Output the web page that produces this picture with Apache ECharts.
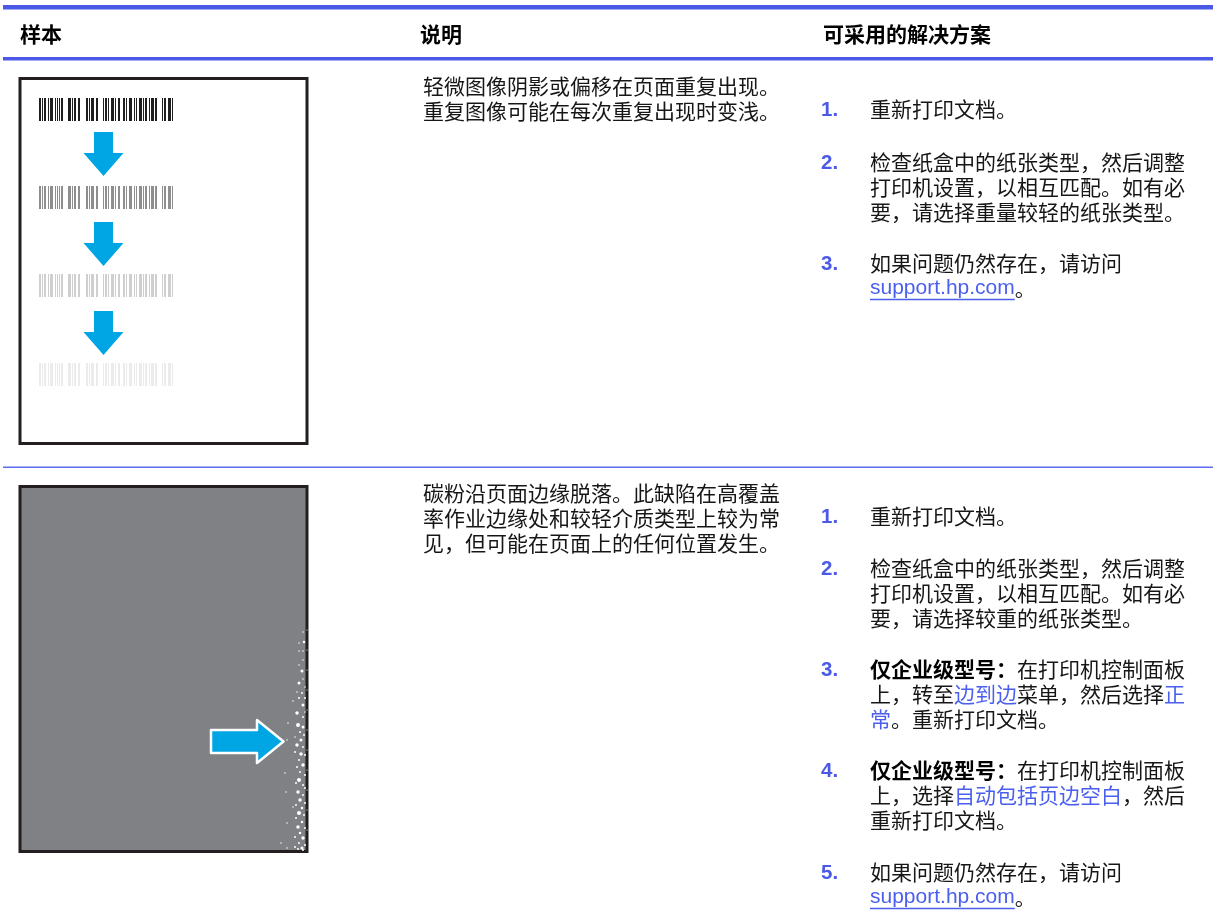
<!DOCTYPE html>
<html><head><meta charset="utf-8">
<script src="https://cdn.jsdelivr.net/npm/echarts@6/dist/echarts.min.js"></script>
<style>html,body{margin:0;padding:0;background:#fff}#c{width:1213px;height:919px}</style>
</head><body><div id="c"></div>
<script>
// ---------- content ----------
const headers = ['样本', '说明', '可采用的解决方案'];

const descriptions = [
  ['轻微图像阴影或偏移在页面重复出现。', '重复图像可能在每次重复出现时变浅。'],
  ['碳粉沿页面边缘脱落。此缺陷在高覆盖', '率作业边缘处和较轻介质类型上较为常', '见，但可能在页面上的任何位置发生。']
];

// each solution: list of lines; each line: list of [style, text]; n normal, b bold, l link, u underlined link
const solutionsRow1 = [
  [[['n', '重新打印文档。']]],
  [[['n', '检查纸盒中的纸张类型，然后调整']], [['n', '打印机设置，以相互匹配。如有必']], [['n', '要，请选择重量较轻的纸张类型。']]],
  [[['n', '如果问题仍然存在，请访问']], [['u', 'support.hp.com'], ['n', '。']]]
];
const solutionsRow2 = [
  [[['n', '重新打印文档。']]],
  [[['n', '检查纸盒中的纸张类型，然后调整']], [['n', '打印机设置，以相互匹配。如有必']], [['n', '要，请选择较重的纸张类型。']]],
  [[['b', '仅企业级型号：'], ['n', '在打印机控制面板']], [['n', '上，转至'], ['l', '边到边'], ['n', '菜单，然后选择'], ['l', '正']], [['l', '常'], ['n', '。重新打印文档。']]],
  [[['b', '仅企业级型号：'], ['n', '在打印机控制面板']], [['n', '上，选择'], ['l', '自动包括页边空白'], ['n', '，然后']], [['n', '重新打印文档。']]],
  [[['n', '如果问题仍然存在，请访问']], [['u', 'support.hp.com'], ['n', '。']]]
];

// barcode bars: [offset, width] in px units of the barcode
const barcodeBars = [[0,2],[3,1],[5,2],[9,1],[11,3],
  [16,1],[18,1],[20,1],[22,2],
  [29,3],[33,1],[35,2],[39,2],
  [47,2],[50,1],[52,3],[57,2],
  [64,1],[66,2],[69,1],[72,3],[76,1],[79,2],
  [84,2],[87,1],[90,3],[95,1],[97,1],
  [100,3],[104,1],[106,2],[110,1],[112,3],[116,2],
  [123,1],[125,2],[129,3],[133,1]];
const barcodeShades = ['#1e1e1e', '#8e8e8e', '#cfcfcf', '#ebebeb'];

// toner flakes along the edge: [x, y, diameter]
const flakes = [
  [303,632,1.5],[304,642,2.5],[299,643,1.5],[299,651,1.5],[303,651,1.5],[303,660,1.5],[299,665,1.5],
  [302,671,3],[303,679,1.5],[299,683,3],[305,687,1.5],[297,692,1.5],[302,693,2],[293,701,1.5],
  [299,698,2],[305,698,2],[303,705,3],[297,713,3.5],[303,717,2],[305,712,1.5],[288,723,1.5],
  [298,725,4],[303,727,3],[300,732,2],[304,735,2],[295,737,1.5],[301,740,3],[287,740,1.5],
  [297,745,3.5],[303,747,2],[295,752,2],[301,754,3.5],[305,755,2],[299,760,2],[303,765,3.5],
  [297,767,2],[300,772,2],[285,773,1.5],[305,775,2],[299,780,4],[303,785,2],[296,783,2],
  [305,788,2],[298,792,3.5],[286,792,1.5],[303,795,2],[300,800,3.5],[305,803,2],[296,805,2],
  [302,808,2.5],[293,807,1.5],[299,813,4],[304,815,2],[296,818,2],[302,822,2.5],[287,823,1.5],
  [298,827,3.5],[305,828,2],[300,833,2.5],[295,837,2],[303,838,3.5],[281,843,1.5],[299,843,2],
  [305,845,2],[295,847,2],[302,848,3],[287,848,1.5],[298,849,2],[303,850,2],
  [307,630,1.2],[307,650,1.2],[307,670,1.2],[307,690,1.2],[307,710,1.2],[307,730,1.2],[307,750,1.2],
  [307,770,1.2],[307,790,1.2],[307,810,1.2],[307,830,1.2]
];

// ---------- drawing ----------
const FONT = "'Noto Sans CJK SC', sans-serif";
const LATIN = "'Liberation Sans', 'Noto Sans CJK SC', sans-serif";
const BLUE = '#4a5ae6';
const LINK = '#4a5fee';
const ARROW = '#00a5e3';
const TEXT = '#161616';
const FS = 21;
const LH = 25;

const g = [];
// rules
g.push({type: 'rect', shape: {x: 3, y: 5, width: 1210, height: 4.5}, style: {fill: BLUE}});
g.push({type: 'rect', shape: {x: 3, y: 57, width: 1210, height: 3.5}, style: {fill: BLUE}});
g.push({type: 'rect', shape: {x: 3, y: 466.5, width: 1210, height: 1.6}, style: {fill: '#5d6df0'}});

// headers
const headerX = [20, 420, 823];
headers.forEach((h, i) => g.push({type: 'text', x: headerX[i], y: 34,
  style: {text: h, fontFamily: FONT, fontSize: 21, fontWeight: 'bold', fill: '#000', verticalAlign: 'middle'}}));

// descriptions
const descTop = [86, 493];
descriptions.forEach((lines, r) => lines.forEach((t, k) => g.push({type: 'text', x: 423, y: descTop[r] + k * LH,
  style: {text: t, fontFamily: FONT, fontSize: FS, fill: TEXT, verticalAlign: 'middle'}})));

// text width measurement
const mctx = document.createElement('canvas').getContext('2d');
function measure(t, font) { mctx.font = font; return mctx.measureText(t).width; }

const rich = {
  n: {fontFamily: FONT, fontSize: FS, fill: TEXT},
  b: {fontFamily: FONT, fontSize: FS, fontWeight: 'bold', fill: '#000'},
  l: {fontFamily: FONT, fontSize: FS, fill: LINK},
  u: {fontFamily: LATIN, fontSize: FS, fill: LINK}
};

function drawSolutions(items, tops) {
  items.forEach((lines, i) => {
    const y0 = tops[i];
    g.push({type: 'text', x: 821, y: y0 + 1.5, style: {text: (i + 1) + '.', fontFamily: LATIN, fontSize: 20.5,
      fontWeight: 'bold', fill: BLUE, verticalAlign: 'middle'}});
    lines.forEach((segs, k) => {
      const y = y0 + k * LH;
      const txt = segs.map(s => '{' + s[0] + '|' + s[1] + '}').join('');
      g.push({type: 'text', x: 870, y: y, style: {text: txt, rich: rich, verticalAlign: 'middle'}});
      let x = 870;
      segs.forEach(s => {
        const f = (s[0] === 'b' ? 'bold ' : '') + FS + 'px ' + (s[0] === 'u' ? LATIN : FONT);
        const w = measure(s[1], f);
        if (s[0] === 'u') {
          g.push({type: 'line', shape: {x1: x, y1: y + 11.5, x2: x + w, y2: y + 11.5}, style: {stroke: LINK, lineWidth: 1.3}});
        }
        x += w;
      });
    });
  });
}
drawSolutions(solutionsRow1, [109, 162, 263]);
drawSolutions(solutionsRow2, [516, 568, 669, 770, 872]);

// sample 1: page with repeating barcode
g.push({type: 'rect', shape: {x: 20, y: 78.5, width: 287, height: 365}, style: {fill: '#fff', stroke: '#231f20', lineWidth: 3}});
const barTops = [98, 186, 274, 363];
barTops.forEach((top, j) => barcodeBars.forEach(b => g.push({type: 'rect',
  shape: {x: 39 + b[0], y: top, width: b[1], height: 23}, style: {fill: barcodeShades[j]}})));
[132, 222, 311].forEach(t => g.push({type: 'polygon',
  shape: {points: [[94, t], [113, t], [113, t + 21], [123.5, t + 21], [103.5, t + 44], [83.5, t + 21], [94, t + 21]]},
  style: {fill: ARROW}}));

// sample 2: grey page with toner flaking
g.push({type: 'rect', shape: {x: 20, y: 486.5, width: 287, height: 365}, style: {fill: '#808184', stroke: '#231f20', lineWidth: 3}, z: 0});
g.push({type: 'polygon', z: 10,
  shape: {points: [[211, 730], [257, 730], [257, 720], [283.5, 741.5], [257, 763], [257, 753], [211, 753]]},
  style: {fill: ARROW, stroke: '#fff', lineWidth: 2.5, lineJoin: 'round'}});

const chart = echarts.init(document.getElementById('c'), null, {renderer: 'canvas'});
chart.setOption({
  animation: false,
  backgroundColor: '#fff',
  grid: {left: 0, top: 0, right: 0, bottom: 0},
  xAxis: {type: 'value', min: 0, max: 1213, show: false},
  yAxis: {type: 'value', min: 0, max: 919, inverse: true, show: false},
  graphic: {elements: g},
  series: [{
    type: 'scatter', z: 5, silent: true,
    data: flakes,
    symbolSize: d => d[2],
    itemStyle: {color: '#ffffff', opacity: 1}
  }]
});
</script>
</body></html>
